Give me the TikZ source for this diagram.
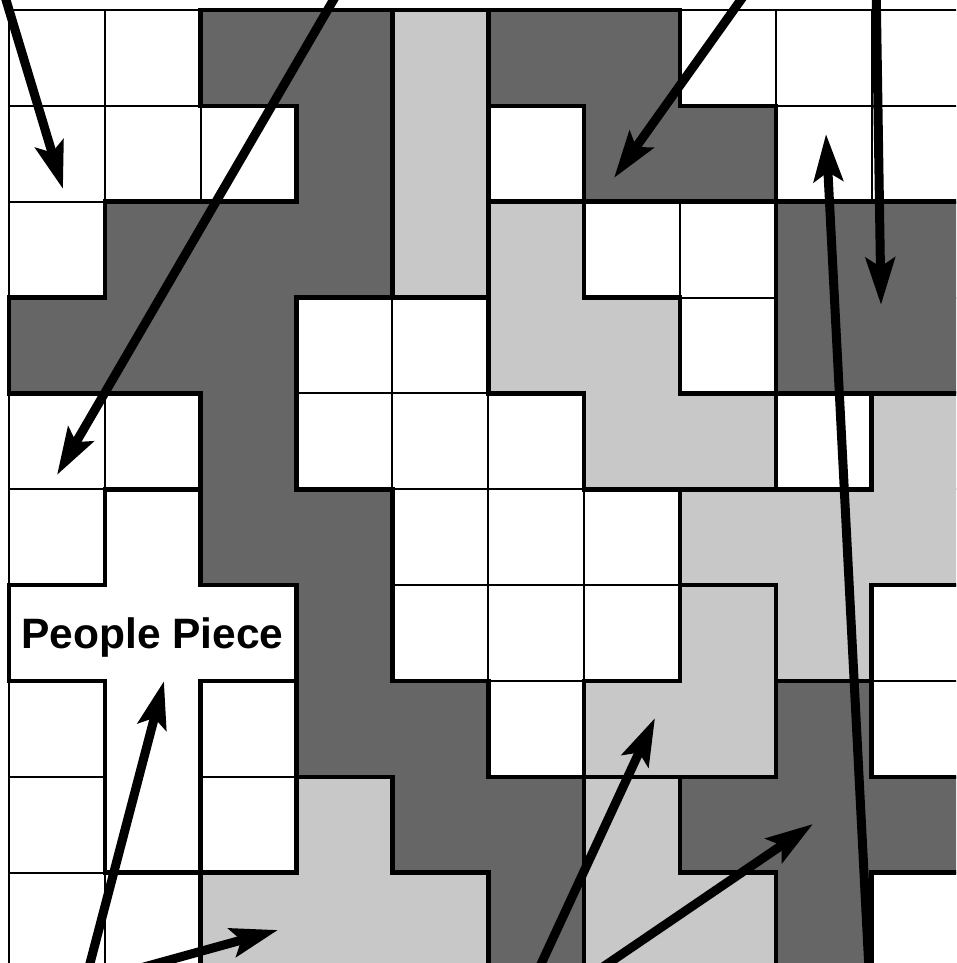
\documentclass[tikz,border=0pt]{standalone}
\usepackage{fontspec}
\setmainfont{Liberation Sans}
\usetikzlibrary{arrows.meta}
\definecolor{dk}{HTML}{666666}
\definecolor{lt}{HTML}{C8C8C8}
\begin{document}
\begin{tikzpicture}[x=1pt,y=-1pt,
  thinline/.style={line width=2pt,black},
  thickline/.style={line width=4.6pt,black,line cap=rect},
  pointer/.style={line width=9pt,black,-{Stealth[length=47pt,width=29pt,inset=9pt]}},
  caption/.style={font=\bfseries\fontsize{42.5}{42.5}\selectfont,anchor=base,inner sep=0pt,text=black}
]
\useasboundingbox (0,0) rectangle (956,963);
\clip (0,0) rectangle (956,963);
\fill[white] (0,0) rectangle (956,963);
\def\pieces{{0,0,2,2,6,3,3,0,0,0,%
0,0,0,2,6,0,3,3,0,0,%
0,2,2,2,6,7,0,0,4,4,%
2,2,2,0,0,7,7,0,4,4,%
0,0,2,0,0,0,7,7,0,10,%
0,1,2,2,0,0,0,10,10,10,%
1,1,1,2,0,0,0,8,10,0,%
0,1,0,2,2,0,8,8,5,0,%
0,1,0,9,2,2,11,5,5,5,%
0,0,9,9,9,2,11,11,5,0}}
\def\S{95.85}
\def\XO{9}
\def\YO{10}
% thin grid lines
\foreach \k in {0,...,10} {
  \draw[thinline] ({\XO+\k*\S},\YO) -- ({\XO+\k*\S},990);
  \draw[thinline] (\XO,{\YO+\k*\S}) -- (990,{\YO+\k*\S});
}
% coloured cells (and the white people piece, which has no inner lines)
\foreach \r in {0,...,9} {
  \foreach \c in {0,...,9} {
    \pgfmathtruncatemacro\p{\pieces[\r*10+\c]}
    \ifnum\p>5
      \fill[lt] ({\XO+\c*\S},{\YO+\r*\S}) rectangle ++(\S,\S);
    \else\ifnum\p>1
      \fill[dk] ({\XO+\c*\S},{\YO+\r*\S}) rectangle ++(\S,\S);
    \else\ifnum\p=1
      \fill[white] ({\XO+\c*\S},{\YO+\r*\S}) rectangle ++(\S,\S);
    \fi\fi\fi
  }
}
% thick piece boundaries: vertical
\foreach \r in {0,...,9} {
  \foreach \c in {0,...,8} {
    \pgfmathtruncatemacro\a{\pieces[\r*10+\c]}
    \pgfmathtruncatemacro\b{\pieces[\r*10+\c+1]}
    \ifnum\a=\b\else
      \draw[thickline] ({\XO+(\c+1)*\S},{\YO+\r*\S}) -- ++(0,\S);
    \fi
  }
}
% thick piece boundaries: horizontal
\foreach \r in {0,...,8} {
  \foreach \c in {0,...,9} {
    \pgfmathtruncatemacro\a{\pieces[\r*10+\c]}
    \pgfmathtruncatemacro\b{\pieces[\r*10+\c+10]}
    \ifnum\a=\b\else
      \draw[thickline] ({\XO+\c*\S},{\YO+(\r+1)*\S}) -- ++(\S,0);
    \fi
  }
}
% outer left and top borders
\foreach \r in {0,...,9} {
  \pgfmathtruncatemacro\a{\pieces[\r*10]}
  \ifnum\a=0
    \draw[thinline] (\XO,{\YO+\r*\S}) -- ++(0,\S);
  \else
    \draw[thickline] (\XO,{\YO+\r*\S}) -- ++(0,\S);
  \fi
}
\foreach \c in {0,...,9} {
  \pgfmathtruncatemacro\a{\pieces[\c]}
  \ifnum\a=0\else
    \draw[thickline] ({\XO+\c*\S},\YO) -- ++(\S,0);
  \fi
}
% label
\node[caption] (people) at (152.5,648) {People Piece};
% arrows
\coordinate (t1) at (0,-20);    \coordinate (h1) at (63,189);
\coordinate (t2) at (345,-20);  \coordinate (h2) at (57,475);
\coordinate (t3) at (755,-20);  \coordinate (h3) at (614,178);
\coordinate (t4) at (876,-20);  \coordinate (h4) at (881,305);
\coordinate (t5) at (870,990);  \coordinate (h5) at (826,134);
\coordinate (t6) at (83,990);   \coordinate (h6) at (164,681);
\coordinate (t7) at (115,975);  \coordinate (h7) at (278,930);
\coordinate (t8) at (529,990);  \coordinate (h8) at (655,718);
\coordinate (t9) at (575,986);  \coordinate (h9) at (813,824);
\foreach \i in {1,...,9} {
  \draw[pointer] (t\i) -- (h\i);
}
\end{tikzpicture}
\end{document}
